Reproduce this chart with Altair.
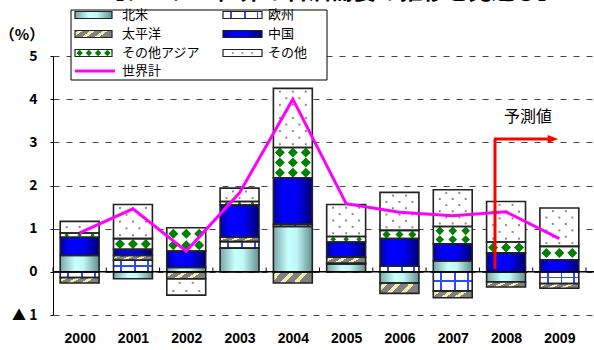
import altair as alt
import pandas as pd

# ---------------- data ----------------
years = [2000, 2001, 2002, 2003, 2004, 2005, 2006, 2007, 2008, 2009]
series_names = ["北米", "欧州", "太平洋", "中国", "その他アジア", "その他"]
north_america = [0.38, -0.16, 0.10, 0.55, 1.05, 0.18, -0.26, 0.25, -0.23, 0.00]
europe = [-0.13, 0.27, 0.00, 0.15, 0.05, 0.02, 0.13, -0.44, 0.00, -0.27]
pacific = [-0.13, 0.11, -0.16, 0.10, -0.26, 0.14, -0.24, -0.16, -0.12, -0.11]
china = [0.42, 0.14, 0.38, 0.75, 1.08, 0.35, 0.64, 0.40, 0.44, 0.28]
other_asia = [0.10, 0.25, 0.54, 0.08, 0.70, 0.13, 0.19, 0.40, 0.25, 0.31]
others = [0.27, 0.79, -0.38, 0.31, 1.37, 0.74, 0.88, 0.85, 0.94, 0.89]
world_total = [0.90, 1.46, 0.48, 1.83, 4.00, 1.58, 1.38, 1.30, 1.39, 0.77]
y_ticks = [-1, 0, 1, 2, 3, 4, 5]
world_label = "世界計"
forecast_label = "予測値"
unit_label = "（%）"
title_text = "【アジア・世界の石油需要の推移と見通し】"

# ---------------- layout ----------------
W, H = 541, 259
X_DOMAIN = [1999.5, 2009.65]
Y_DOMAIN = [-1, 5]
PX_PER_UNIT = H / (Y_DOMAIN[1] - Y_DOMAIN[0])
BAR_HALF = 0.365
NUM_FONT = "Liberation Sans"
JP_FONT = "Noto Sans CJK JP"

xs = alt.Scale(domain=X_DOMAIN, nice=False, zero=False)
ys = alt.Scale(domain=Y_DOMAIN, nice=False, zero=False)

x_axis = alt.Axis(values=years, format="d", title=None, ticks=False, tickSize=0,
                  domain=False, grid=False, labelPadding=16, labelFont=NUM_FONT,
                  labelFontSize=14, labelFontWeight="bold", labelColor="#000")
y_axis = alt.Axis(values=y_ticks, title=None, tickSize=3, tickColor="#000",
                  domainColor="#000", domainWidth=1, labelPadding=13,
                  labelFont=JP_FONT, labelFontSize=14, labelFontWeight="bold",
                  labelColor="#000", grid=True, gridDash=[6, 7], gridColor="#444",
                  gridWidth=1,
                  labelExpr="datum.value < 0 ? '▲  ' + abs(datum.value) : datum.value")


def X(field):
    return alt.X(field, scale=xs, axis=x_axis, title=None)


def Y(field):
    return alt.Y(field, scale=ys, axis=y_axis, title=None)


# ---------------- stacking ----------------
all_series = [north_america, europe, pacific, china, other_asia, others]
rows = []
for i, yr in enumerate(years):
    pos, neg = 0.0, 0.0
    for name, vals in zip(series_names, all_series):
        v = vals[i]
        if v == 0:
            continue
        if v > 0:
            y0, y1 = pos, pos + v
            pos = y1
        else:
            y0, y1 = neg, neg + v
            neg = y1
        rows.append(dict(year=yr, series=name, x0=yr - BAR_HALF, x1=yr + BAR_HALF,
                         y0=y0, y1=y1, h=abs(v)))
seg = pd.DataFrame(rows)

# texture points (derived from the stacked segments)
dia, dots = [], []
for r in rows:
    lo, hi = sorted((r["y0"], r["y1"]))
    hgt = hi - lo
    hpx = hgt * PX_PER_UNIT
    if r["series"] == "その他アジア":
        n = max(1, round(hpx / 11))
        d = min(10.0, hpx / n)
        for k in range(n):
            yc = lo + (k + 0.5) * hgt / n
            for off in (-0.243, 0.0, 0.243):
                dia.append(dict(x=r["year"] + off, y=yc, s=d * d))
    if r["series"] == "その他":
        n = max(1, int(hpx // 6))
        for k in range(n):
            yc = lo + (k + 0.5) * hgt / n
            offs = (-0.243, 0.0, 0.243) if k % 2 == 0 else (-0.122, 0.122)
            for off in offs:
                dots.append(dict(x=r["year"] + off, y=yc))
dia_df = pd.DataFrame(dia)
dots_df = pd.DataFrame(dots)
world_df = pd.DataFrame({"year": years, "world": world_total})
bounds_df = pd.DataFrame({"b": [y - 0.5 for y in years] + [years[-1] + 0.5]})


def grad(stops, x2=1.0, y2=0.0):
    return alt.LinearGradient(
        gradient="linear", x1=0, y1=0, x2=x2, y2=y2,
        stops=[alt.GradientStop(offset=o, color=c) for o, c in stops])


def stripes(c_bg, c_fg, bands):
    st = [(0, c_bg)]
    for a, b in bands:
        st += [(a, c_bg), (a, c_fg), (b, c_fg), (b, c_bg)]
    st.append((1, c_bg))
    return st


fills = {
    "北米": grad([(0, "#7aa6a6"), (0.38, "#c8ffff"), (0.6, "#bff6f6"), (1, "#648f8f")]),
    "欧州": grad(stripes("#ffffff", "#2a4cff", [(0.18, 0.23), (0.53, 0.58), (0.86, 0.91)])),
    "太平洋": grad(stripes("#808080", "#f3eeb0", [(0.08, 0.2), (0.4, 0.52), (0.72, 0.84)]), 1.0, 0.26),
    "中国": grad([(0, "#0000a8"), (0.25, "#0000ff"), (0.6, "#0000f5"), (1, "#00006e")]),
    "その他アジア": "#ffffff",
    "その他": "#ffffff",
}
eu_hline = grad(stripes("rgba(255,255,255,0)", "#2a4cff", [(0.45, 0.55)]), 0.0, 1.0)

layers = []
for name in series_names:
    layers.append(
        alt.Chart(seg).transform_filter(alt.datum.series == name)
        .mark_rect(fill=fills[name])
        .encode(x=X("x0:Q"), x2="x1:Q", y=Y("y0:Q"), y2="y1:Q"))

layers.append(
    alt.Chart(seg).transform_filter((alt.datum.series == "欧州") & (alt.datum.h >= 0.25))
    .mark_rect(fill=eu_hline)
    .encode(x=X("x0:Q"), x2="x1:Q", y=Y("y0:Q"), y2="y1:Q"))

layers.append(
    alt.Chart(dia_df).mark_point(shape="diamond", filled=True, color="#008000", opacity=1)
    .encode(x=X("x:Q"), y=Y("y:Q"), size=alt.Size("s:Q", scale=None, legend=None)))
layers.append(
    alt.Chart(dots_df).mark_square(size=4, color="#8a8a8a", opacity=1)
    .encode(x=X("x:Q"), y=Y("y:Q")))

layers.append(
    alt.Chart(seg).mark_rect(fillOpacity=0, stroke="#222", strokeWidth=1.6)
    .encode(x=X("x0:Q"), x2="x1:Q", y=Y("y0:Q"), y2="y1:Q"))

# baseline at 0 and category-boundary ticks
layers.append(
    alt.Chart(world_df.head(1)).mark_rule(color="#000", strokeWidth=1.5)
    .encode(y=alt.Y(datum=0, scale=ys, axis=y_axis, title=None),
            x=alt.value(0), x2=alt.value(W)))
layers.append(
    alt.Chart(bounds_df).mark_rule(color="#000", strokeWidth=1)
    .encode(x=X("b:Q"), y=alt.Y(datum=0, scale=ys, axis=y_axis, title=None),
            y2=alt.Y2(datum=0.1)))

# world total line
layers.append(
    alt.Chart(world_df).mark_line(color="#ff00ff", strokeWidth=3)
    .encode(x=X("year:Q"), y=Y("world:Q")))

# ---------------- annotations (pixel layout) ----------------
one = pd.DataFrame({"k": [0]})


def prect(x, x2, y, y2, **kw):
    return alt.Chart(one).mark_rect(**kw).encode(
        x=alt.value(x), x2=alt.value(x2), y=alt.value(y), y2=alt.value(y2))


def ptext(txt, x, y, font=JP_FONT, size=13, align="left", weight="normal",
          baseline="middle"):
    return alt.Chart(one).mark_text(text=txt, font=font, fontSize=size, align=align,
                                    baseline=baseline, color="#000", fontWeight=weight
                                    ).encode(x=alt.value(x), y=alt.value(y))


# clipped title at the very top (only the lower edge of the glyphs is visible)
layers.append(ptext(title_text, 278, -57, size=23, align="center", weight="bold",
                    baseline="alphabetic"))

# red forecast arrow
layers.append(alt.Chart(one).mark_rule(color="#ff0000", strokeWidth=3).encode(
    x=alt.value(442), y=alt.value(213), y2=alt.value(83)))
layers.append(alt.Chart(one).mark_rule(color="#ff0000", strokeWidth=3).encode(
    x=alt.value(441), x2=alt.value(496), y=alt.value(83)))
layers.append(alt.Chart(one).mark_point(shape="M-1,-0.75L1,0L-1,0.75Z", filled=True,
                                        color="#ff0000", opacity=1, size=110).encode(
    x=alt.value(500), y=alt.value(83)))
layers.append(ptext(forecast_label, 475, 61, size=16, align="center"))
layers.append(ptext(unit_label, -31, -21, size=15, align="center", weight="bold"))

# legend
LX0, LX1, LY0, LY1 = 18, 274, -46, 24
layers.append(prect(LX0, LX1, LY0, LY1, fill="#ffffff", stroke="#000", strokeWidth=1))
row_y = [-41, -22, -3, 15]
col_sw = [(22, 59), (170, 209)]
col_tx = [69, 215]
for idx, name in enumerate(series_names):
    c, rr = idx % 2, idx // 2
    sx0, sx1 = col_sw[c]
    cy = row_y[rr]
    layers.append(prect(sx0, sx1, cy - 3.5, cy + 3.5, fill=fills[name],
                        stroke="#222", strokeWidth=1.2))
    if name == "その他アジア":
        for k in range(4):
            layers.append(alt.Chart(one).mark_point(shape="diamond", filled=True,
                                                    color="#008000", opacity=1, size=42)
                          .encode(x=alt.value(sx0 + (sx1 - sx0) * (k + 0.5) / 4),
                                  y=alt.value(cy)))
    if name == "その他":
        for k in range(3):
            layers.append(alt.Chart(one).mark_square(size=3, color="#8a8a8a", opacity=1)
                          .encode(x=alt.value(sx0 + (sx1 - sx0) * (k + 1) / 4),
                                  y=alt.value(cy)))
    layers.append(ptext(name, col_tx[c], cy))
layers.append(alt.Chart(one).mark_rule(color="#ff00ff", strokeWidth=3).encode(
    x=alt.value(22), x2=alt.value(62), y=alt.value(row_y[3])))
layers.append(ptext(world_label, col_tx[0], row_y[3]))

chart = alt.layer(*layers).resolve_axis(x="shared", y="shared").properties(
    width=W, height=H,
    padding={"left": 53, "top": 56, "right": 0, "bottom": 35},
    autosize=alt.AutoSizeParams(type="none"),
    background="#ffffff",
).configure_view(strokeWidth=0)

chart.save("out.html", embed_options={"renderer": "svg", "actions": False})
